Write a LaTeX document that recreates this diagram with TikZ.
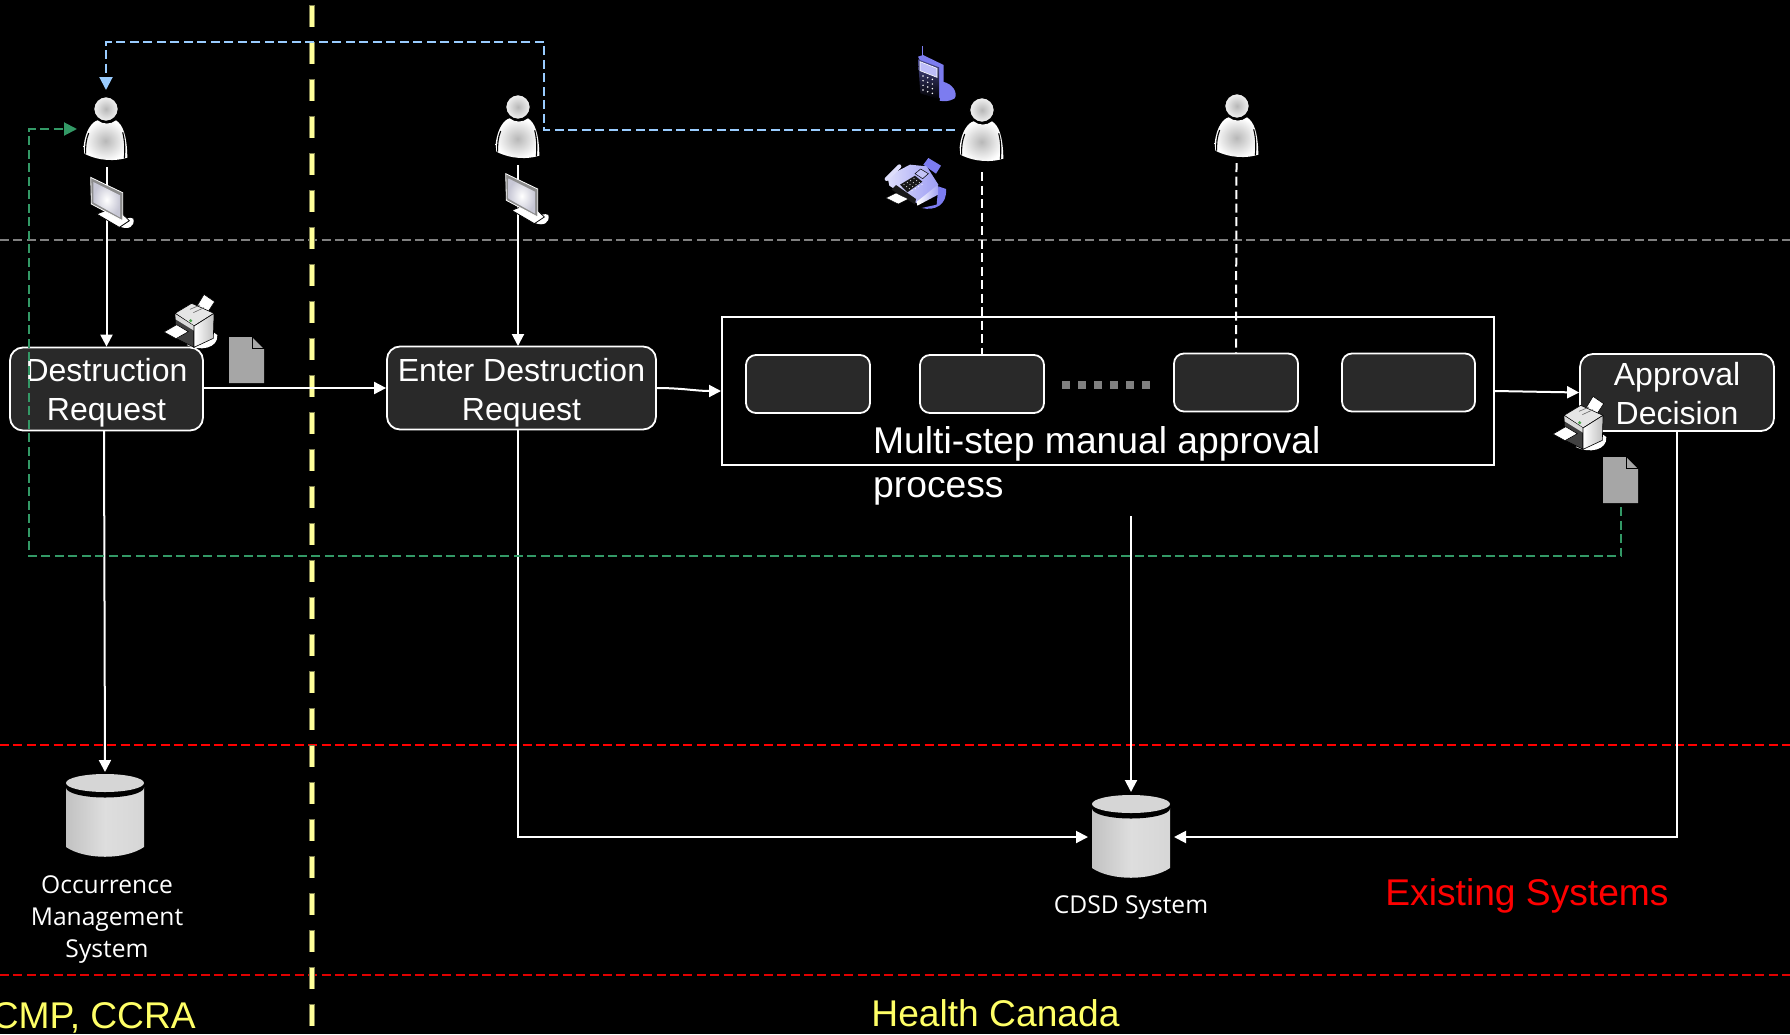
\documentclass[tikz,border=0pt]{standalone}
\usepackage{fontspec}
\setmainfont{Liberation Sans}
\newfontfamily\labelfont{Open Sans}
\usetikzlibrary{arrows.meta,shapes.geometric}
\definecolor{boxfill}{HTML}{292929}
\definecolor{bluedash}{HTML}{99CCFF}
\definecolor{greendash}{HTML}{339966}
\definecolor{hcyellow}{HTML}{FFFF66}
\definecolor{paleyellow}{HTML}{FFFF99}
\definecolor{yellowedge}{HTML}{7F7F50}
\definecolor{iconblue}{HTML}{7C7CF0}
\newcommand{\topgap}[1]{\rule{0pt}{#1pt}}
\tikzset{
  flow/.style={draw=white,line width=2pt,-{Triangle[length=12pt,width=12pt]}},
  dashwhite/.style={draw=white,line width=2pt,dash pattern=on 9pt off 4.5pt},
  bluearrow/.style={draw=bluedash,line width=2pt,dash pattern=on 9pt off 4.5pt,-{Triangle[length=13pt,width=13pt,fill=bluedash]}},
  greenarrow/.style={draw=greendash,line width=2pt,dash pattern=on 9pt off 4.5pt,-{Triangle[length=13pt,width=13pt,fill=greendash]}},
  zone/.style={draw=#1,line width=2pt,dash pattern=on 9pt off 4.4pt},
  stepbox/.style={draw=white,fill=boxfill,line width=1.8pt,rounded corners=13pt,align=center,inner sep=0pt,text=white,font=\fontsize{32}{39}\selectfont},
  innerbox/.style={draw=white,fill=boxfill,line width=1.8pt,rounded corners=10pt,inner sep=0pt},
  syslabel/.style={text=white,align=center,inner sep=0pt,font=\labelfont\fontsize{24.6}{32}\selectfont},
  zonelabel/.style={inner sep=0pt,font=\fontsize{37.2}{44}\selectfont},
  person/.pic={
    \begin{scope}[scale=1/3,shift={(-320,-238)}]
      \path[shading=radial,inner color=black!28,outer color=white]
        (253,350) .. controls (258,300) and (280,275) .. (295,272)
        .. controls (310,285) and (335,285) .. (350,272)
        .. controls (370,285) and (383,315) .. (384,384)
        .. controls (350,395) and (300,395) .. (255,372) -- cycle;
      \draw[black,line width=1.1pt] (268,310) .. controls (260,330) and (258,350) .. (259,372);
      \draw[black,line width=1.1pt] (370,308) .. controls (376,330) and (378,355) .. (375,386);
      \draw[black,line width=1.2pt,inner color=black!28,outer color=white!95!black] (320,238) circle (37);
    \end{scope}},
  monitoricon/.pic={
    \begin{scope}[scale=1/3,shift={(-275,-440)}]
      \fill[white] (360,590) .. controls (385,600) and (405,590) .. (400,566) .. controls (390,560) and (375,565) .. (360,575) -- cycle;
      \draw[black,fill=white,line width=.8pt] (290,552) -- (345,530) -- (388,572) -- (358,592) -- cycle;
      \draw[white,fill=black!45,line width=.8pt] (272,442) -- (368,488) -- (368,572) -- (274,522) -- cycle;
      \shade[inner color=white,outer color=blue!25!black!22] (280,456) -- (360,496) -- (360,562) -- (280,517) -- cycle;
    \end{scope}},
  printericon/.pic={
    \begin{scope}[scale=1/3,shift={(-492,-795)}]
      \fill[white] (560,945) .. controls (600,965) and (655,955) .. (652,915) -- (630,900) -- cycle;
      \draw[black,fill=white,line width=.6pt] (588,833) -- (612,793) -- (644,815) -- (618,855) -- cycle;
      \draw[black,fill=black!10,line width=.6pt] (525,850) -- (575,820) -- (642,850) -- (582,888) -- cycle;
      \draw[black!60,line width=.6pt] (570,838) -- (600,825) (580,848) -- (612,833);
      \draw[black,fill=black!75,line width=.6pt] (525,850) -- (582,888) -- (582,952) -- (528,925) -- cycle;
      \fill[black!15] (526,852) -- (582,888) -- (582,902) -- (527,868) -- cycle;
      \shade[left color=white,right color=black!25] (582,888) -- (642,850) -- (640,925) -- (582,952) -- cycle;
      \draw[black,line width=.6pt] (582,888) -- (642,850) -- (640,925) -- (582,952) -- cycle;
      \fill[black!50!green!70!white] (572,872) circle (5);
      \draw[black,fill=white,line width=.6pt] (492,906) -- (530,884) -- (565,905) -- (528,926) -- cycle;
    \end{scope}},
  docicon/.pic={
    \begin{scope}
      \fill[black!35] (0,0) -- (23,0) -- (35,12) -- (35,46) -- (0,46) -- cycle;
      \draw[black,line width=1pt] (23,0) -- (23,11) -- (35,11);
    \end{scope}},
  cylindericon/.pic={
    \begin{scope}
      \shade[left color=black!24,right color=black!16,middle color=black!13]
        (-39,13) -- (-39,73) .. controls (-20,86) and (20,86) .. (39,73) -- (39,13) -- cycle;
      \fill[black] (0,13.5) ellipse (39 and 10);
      \fill[black!16] (0,9) ellipse (39 and 9);
    \end{scope}},
  phoneicon/.pic={
    \begin{scope}[scale=1/3,shift={(-175,-48)}]
      \fill[iconblue] (248,155) .. controls (280,160) and (295,190) .. (285,205) .. controls (270,215) and (250,215) .. (240,212) -- cycle;
      \draw[iconblue,line width=1.2pt] (188,48) -- (188,80);
      \fill[iconblue] (175,80) -- (190,75) -- (252,105) -- (252,205) -- (240,205) -- cycle;
      \shade[top color=iconblue!60!black,bottom color=black] (175,88) -- (238,112) -- (238,208) -- (182,190) -- cycle;
      \draw[white,fill=iconblue!50,line width=.6pt] (181,95) -- (232,115) -- (232,142) -- (181,122) -- cycle;
      \foreach \r in {0,1,2,3} \foreach \c in {0,1,2}
        \fill[white] ({190+\c*14},{138+\r*14+\c*5}) circle (2.5);
    \end{scope}},
  faxicon/.pic={
    \begin{scope}[scale=1/3,shift={(-72,-385)}]
      \fill[iconblue] (185,535) .. controls (225,545) and (262,525) .. (258,478) -- (235,470) -- (230,525) -- cycle;
      \fill[iconblue] (190,405) -- (205,385) -- (243,408) -- (228,432) -- cycle;
      \shade[left color=iconblue!25,right color=iconblue!75] (82,440) -- (150,405) -- (200,410) -- (235,465) -- (172,522) -- (88,468) -- cycle;
      \shade[left color=white,right color=iconblue!70] (172,528) -- (172,515) -- (234,465) -- (234,495) -- cycle;
      \draw[iconblue!25,line width=4pt,line cap=round] (80,448) -- (118,410);
      \fill[black!90] (120,465) -- (165,438) -- (187,456) -- (142,488) -- cycle;
      \foreach \r in {0,1,2,3} \foreach \c in {0,1,2,3}
        \fill[white] ({132+\c*10+\r*8},{465-\c*6+\r*6}) circle (1.6);
      \draw[black,fill=iconblue!45,line width=.5pt] (165,432) -- (182,418) -- (205,432) -- (188,447) -- cycle;
      \fill[black!90] (95,480) -- (108,466) -- (168,508) -- (165,524) -- cycle;
      \draw[black,fill=white,line width=.4pt] (78,505) -- (108,490) -- (145,508) -- (115,523) -- cycle;
    \end{scope}}
}
\begin{document}
\begin{tikzpicture}[x=1pt,y=-1pt]
\useasboundingbox (0,0) rectangle (1790,1034);
\fill[black] (0,0) rectangle (1790,1034);

% zone boundaries
\coordinate (greyL) at (0,240); \coordinate (greyR) at (1790,240);
\coordinate (redAL) at (0,744.7); \coordinate (redAR) at (1790,744.7);
\coordinate (redBL) at (0,975.3); \coordinate (redBR) at (1790,975.3);
\coordinate (yelT) at (312,0); \coordinate (yelB) at (312,1034);
\draw[zone=black!50] (greyL) -- (greyR);
\draw[zone=red] (redAL) -- (redAR);
\draw[zone=red!88!black] (redBL) -- (redBR);
\draw[draw=yellowedge,line width=6pt,dash pattern=on 22pt off 15pt,dash phase=31.7pt] (yelT) -- (yelB);
\draw[draw=paleyellow,line width=4.4pt,dash pattern=on 20.6pt off 16.4pt,dash phase=31pt] (yelT) -- (yelB);

% persons anchors
\coordinate (p1) at (106,109);
\coordinate (p2) at (518,107);
\coordinate (p3) at (982,110);
\coordinate (p4) at (1237,106);

% steps
\node[stepbox,minimum width=193pt,minimum height=83pt] (dest) at (106.5,389) {\topgap{30}Destruction\\Request};
\node[stepbox,minimum width=269pt,minimum height=83pt] (enter) at (521.5,388) {\topgap{32}Enter Destruction\\Request};
\node[draw=white,line width=2pt,fill=black,minimum width=772pt,minimum height=148pt,inner sep=0pt] (proc) at (1108,391) {};
\node[innerbox,minimum width=124pt,minimum height=58pt] (s1) at (808,384) {};
\node[innerbox,minimum width=124pt,minimum height=58pt] (s2) at (982,384) {};
\node[innerbox,minimum width=124pt,minimum height=58pt] (s3) at (1236,382.5) {};
\node[innerbox,minimum width=133pt,minimum height=58pt] (s4) at (1408.5,382.5) {};
\foreach \i in {0,...,5} \fill[black!50] ({1062+\i*16},381) rectangle ++(8.3,8.3);
\node[stepbox,minimum width=194pt,minimum height=77pt] (appr) at (1677,392.5) {\topgap{25}Approval\\Decision};

\node[anchor=base west,inner sep=0pt,text=white,font=\fontsize{37.25}{44.5}\selectfont] (ptitle) at (873,453) {Multi-step manual approval};
\node[anchor=base west,inner sep=0pt,text=white,font=\fontsize{37.25}{44.5}\selectfont] (ptitleb) at (873,497) {process};

% cylinders
\pic (cyl1) at (105,774) {cylindericon};
\pic (cyl2) at (1131,795) {cylindericon};
\coordinate (c1top) at (105,772);
\coordinate (c2top) at (1131,792);
\coordinate (c2w) at (1088,837);
\coordinate (c2e) at (1174,837);

% connectors
\coordinate (p1b) at (106.5,167);
\coordinate (p2b) at (518,165);
\coordinate (p3b) at (982,172);
\coordinate (p4b) at (1236.5,163);
\coordinate (enterin) at (518,346);
\draw[flow] (p1b) -- (dest.north);
\draw[flow] (p2b) -- (enterin);
\draw[dashwhite] (p3b) -- (s2.north);
\draw[dashwhite] (p4b) -- (s3.north);
\draw[flow] (dest.east) ++(0,-1) -- (enter.west);
\draw[flow] (enter.east) to[out=0,in=180] (proc.west);
\draw[flow] (proc.east) -- (appr.west);
\coordinate (destdown) at (104,431);
\coordinate (enterdown) at (518,430);
\draw[flow] (destdown) -- (c1top);
\draw[flow] (enterdown) |- (c2w);
\draw[flow] (appr.south) |- (c2e);
\coordinate (procdown) at (1131,516);
\draw[flow] (procdown) -- (c2top);

\coordinate (bluestart) at (955,130);
\coordinate (bluetip) at (106,90);
\draw[bluearrow] (bluestart) -| (544,42) -| (bluetip);
\coordinate (greenstart) at (1621,507);
\coordinate (greentip) at (77,129);
\draw[greenarrow] (greenstart) |- (29,556) |- (greentip);

% icons
\pic at (p1) {person};
\pic at (p2) {person};
\pic at (p3) {person};
\pic at (p4) {person};
\pic at (91.7,176.7) {monitoricon};
\pic at (506.7,173) {monitoricon};
\pic at (164,295) {printericon};
\pic at (1553,397) {printericon};
\pic at (229,337) {docicon};
\pic at (1603,457) {docicon};
\pic at (918,46) {phoneicon};
\pic at (884,158) {faxicon};

% labels
\node[syslabel] (occ) at (107,919.5) {Occurrence\\Management\\System};
\node[syslabel] (cdsd) at (1131,907.5) {CDSD System};
\node[zonelabel,text=red] (exist) at (1527,895.5) {Existing Systems};
\node[zonelabel,text=hcyellow] (hc) at (995.5,1013) {Health Canada};
\node[zonelabel,text=hcyellow,anchor=east] (cmp) at (196,1017.5) {CMP, CCRA};
\end{tikzpicture}
\end{document}
